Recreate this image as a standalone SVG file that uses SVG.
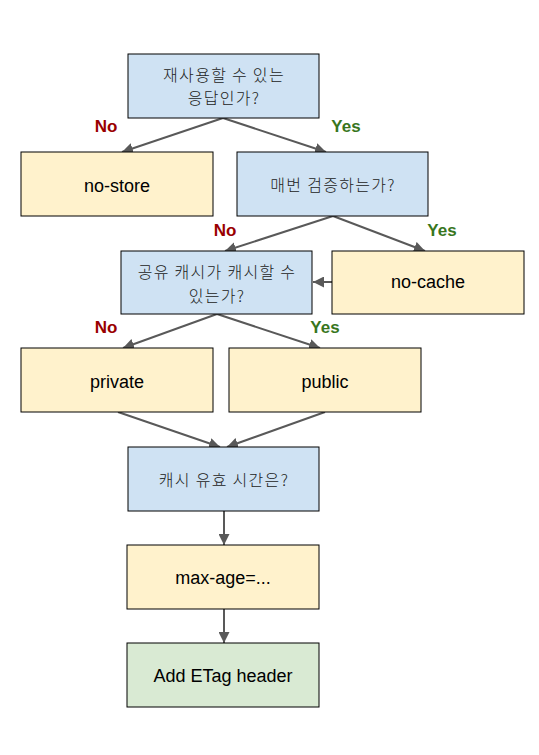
<svg xmlns="http://www.w3.org/2000/svg" width="539" height="755" viewBox="0 0 539 755">
<style>
.q{fill:#cfe2f3;stroke:#000;stroke-width:1}
.a{fill:#fff2cc;stroke:#000;stroke-width:1}
.g{fill:#d9ead3;stroke:#000;stroke-width:1}
.kt{font-family:"Noto Sans CJK KR","Noto Sans",sans-serif;font-size:16px;letter-spacing:1.3px;fill:#222;text-anchor:middle;font-weight:300}
.et{font-family:"Liberation Sans",Arial,sans-serif;font-size:18px;fill:#000;text-anchor:middle}
.no{font-family:"Liberation Sans",Arial,sans-serif;font-size:17px;font-weight:bold;fill:#990000;text-anchor:middle}
.yes{font-family:"Liberation Sans",Arial,sans-serif;font-size:17px;font-weight:bold;fill:#38761d;text-anchor:middle}
.c{stroke:#595959;stroke-width:2;fill:none;marker-end:url(#ah)}
</style>
<defs>
<marker id="ah" markerUnits="userSpaceOnUse" markerWidth="12" markerHeight="11" refX="11" refY="5.5" orient="auto">
<path d="M0,0 L11,5.5 L0,11 z" fill="#595959"/>
</marker>
</defs>
<rect width="539" height="755" fill="#fff"/>
<g id="connectors">
<line class="c" x1="223" y1="118" x2="122" y2="152"/>
<line class="c" x1="223" y1="118" x2="326" y2="152"/>
<line class="c" x1="333" y1="216" x2="225" y2="251"/>
<line class="c" x1="333" y1="216" x2="425" y2="251"/>
<line class="c" x1="332" y1="282" x2="313" y2="282"/>
<line class="c" x1="217" y1="314" x2="123" y2="348"/>
<line class="c" x1="217" y1="314" x2="320" y2="348"/>
<line class="c" x1="118" y1="412" x2="220" y2="447"/>
<line class="c" x1="325" y1="412" x2="227" y2="447"/>
<line class="c" x1="224" y1="511" x2="224" y2="545"/>
<line class="c" x1="224" y1="609" x2="224" y2="643"/>
</g>
<g id="labels">
<text class="no" x="106" y="132">No</text>
<text class="yes" x="346" y="132">Yes</text>
<text class="no" x="225" y="236">No</text>
<text class="yes" x="442" y="236">Yes</text>
<text class="no" x="106" y="333">No</text>
<text class="yes" x="325" y="333">Yes</text>
</g>
<g id="reusable">
<rect class="q" x="128" y="54" width="191" height="64"/>
<text class="kt" x="224" y="80.5">재사용할 수 있는</text>
<text class="kt" x="224" y="104">응답인가?</text>
</g>
<g id="no-store">
<rect class="a" x="21" y="152" width="192" height="64"/>
<text class="et" x="117" y="192">no-store</text>
</g>
<g id="revalidate">
<rect class="q" x="237" y="152" width="191" height="64"/>
<text class="kt" x="333" y="190.5">매번 검증하는가?</text>
</g>
<g id="shared">
<rect class="q" x="121" y="251" width="191" height="63"/>
<text class="kt" x="217" y="278">공유 캐시가 캐시할 수</text>
<text class="kt" x="217" y="301.5">있는가?</text>
</g>
<g id="no-cache">
<rect class="a" x="332" y="251" width="192" height="63"/>
<text class="et" x="428" y="288">no-cache</text>
</g>
<g id="private">
<rect class="a" x="21" y="348" width="192" height="64"/>
<text class="et" x="117" y="388">private</text>
</g>
<g id="public">
<rect class="a" x="229" y="348" width="192" height="64"/>
<text class="et" x="325" y="388">public</text>
</g>
<g id="ttl">
<rect class="q" x="128" y="447" width="191" height="64"/>
<text class="kt" x="224" y="485.5">캐시 유효 시간은?</text>
</g>
<g id="max-age">
<rect class="a" x="127" y="545" width="192" height="64"/>
<text class="et" x="223" y="584">max-age=...</text>
</g>
<g id="etag">
<rect class="g" x="127" y="643" width="192" height="64"/>
<text class="et" x="223" y="682">Add ETag header</text>
</g>
</svg>
